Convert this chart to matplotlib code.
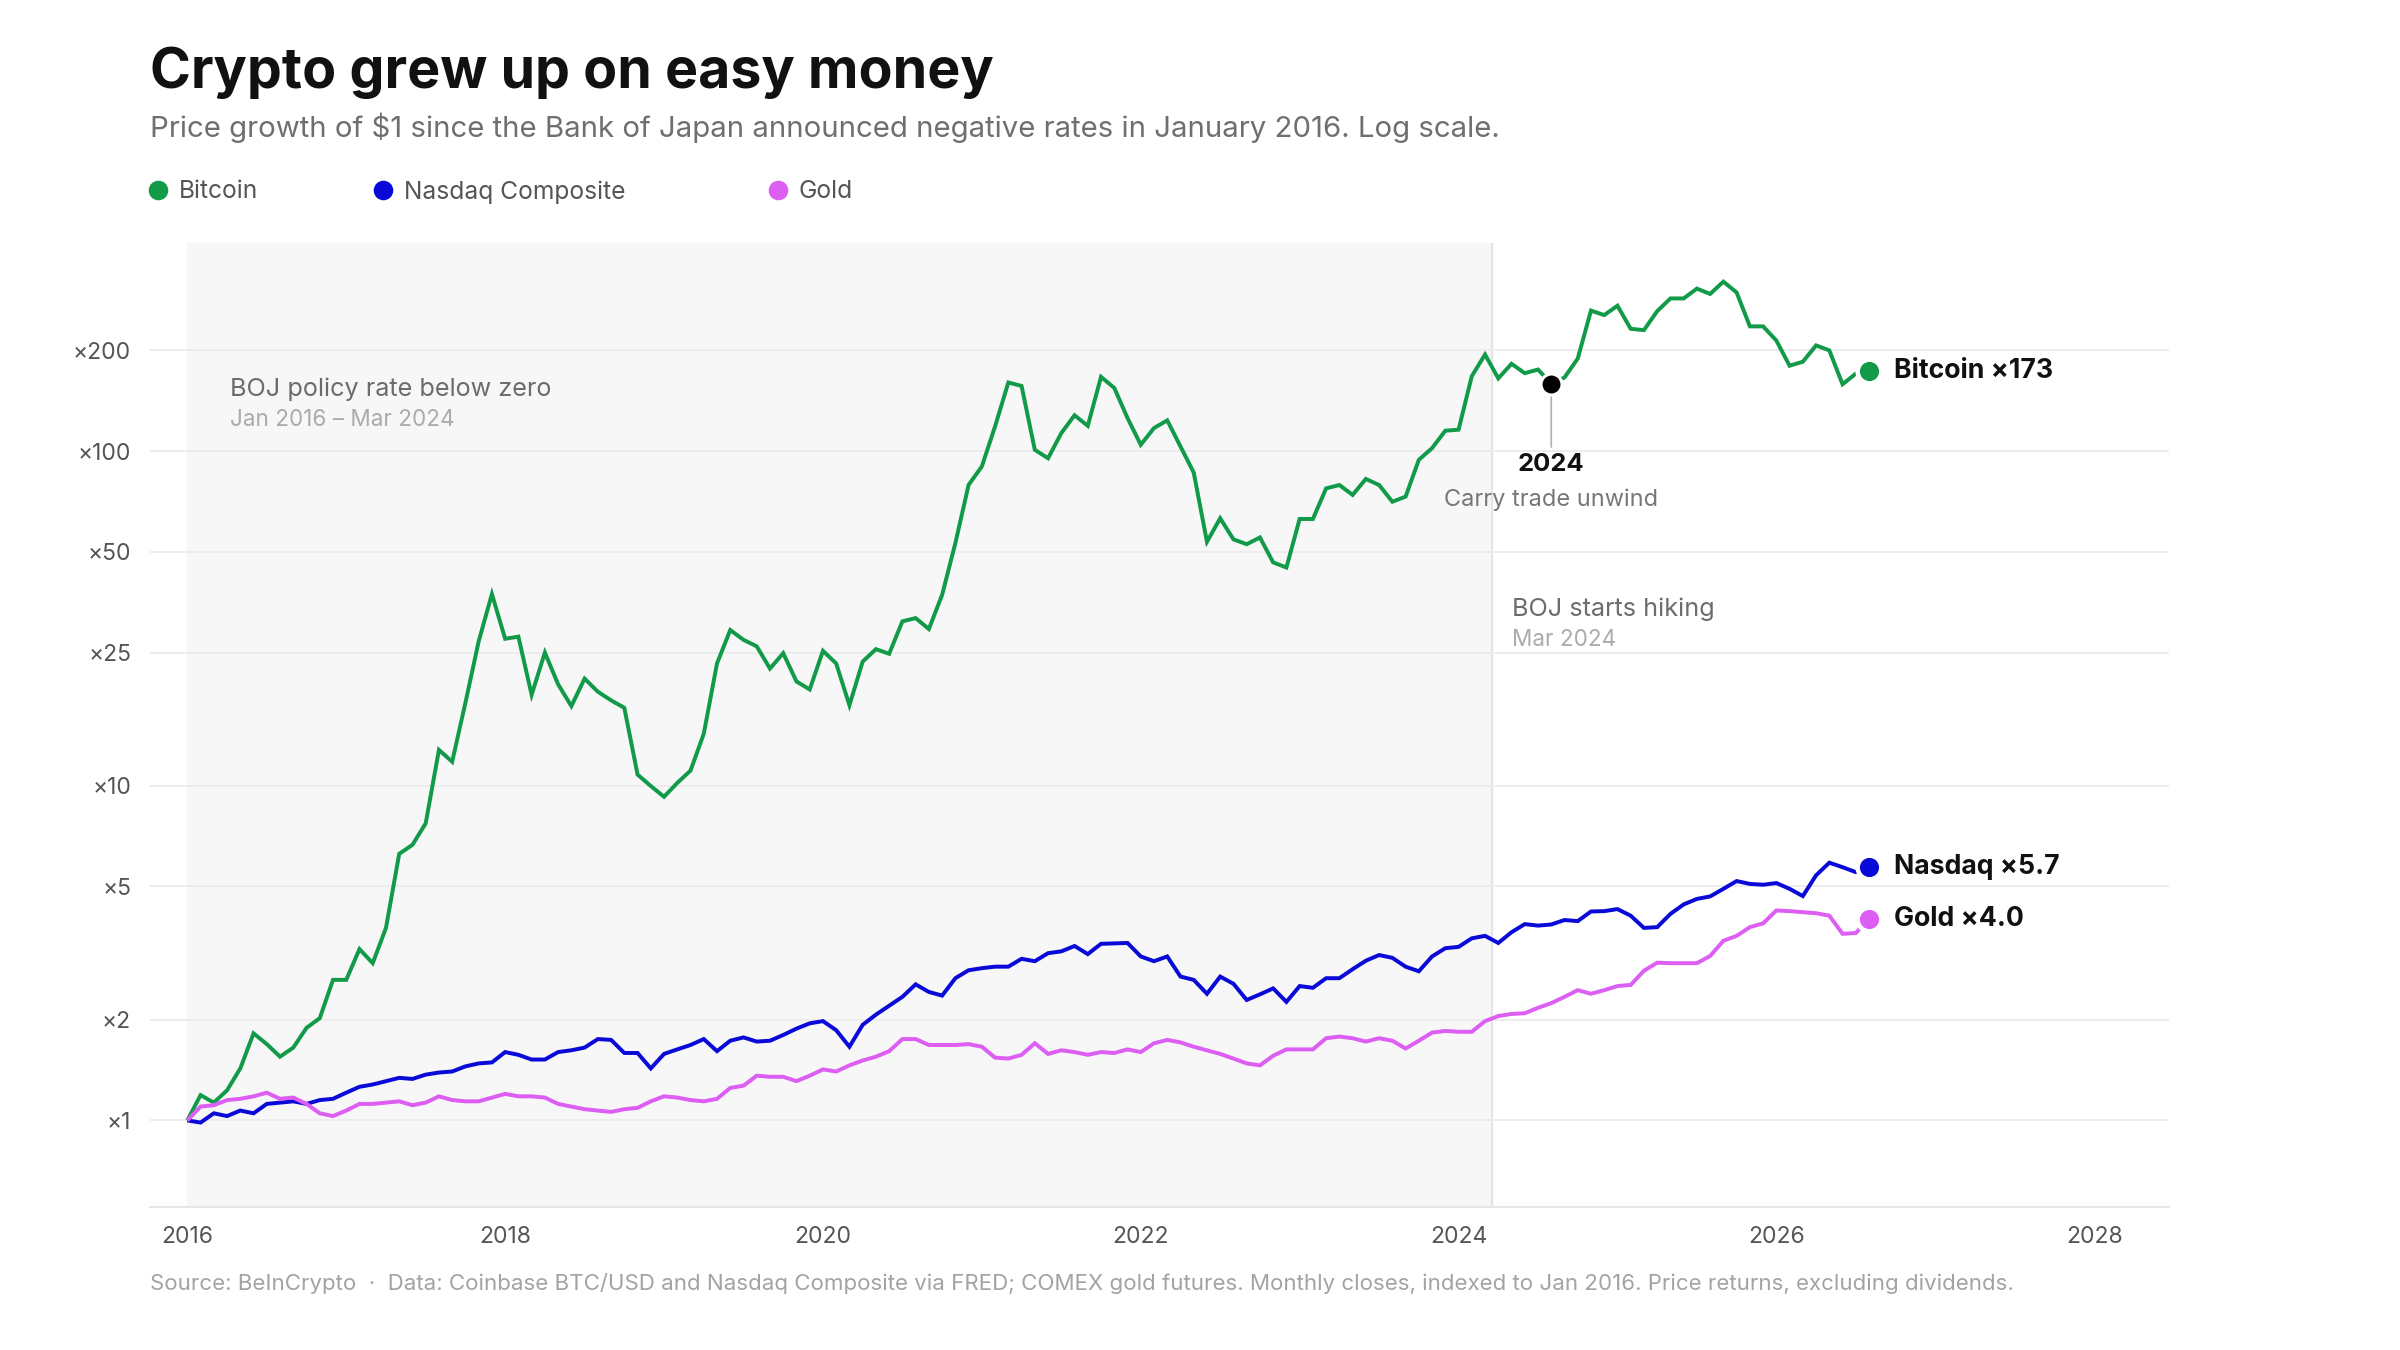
import numpy as np
import pandas as pd
import matplotlib
matplotlib.use("Agg")
import matplotlib.pyplot as plt
from matplotlib.lines import Line2D

plt.rcParams['font.family'] = ['Inter', 'DejaVu Sans']

# ---------------- data (monthly closes, indexed to Jan 2016 = 1) ----------------
months = pd.date_range('2016-01-01', '2026-08-01', freq='MS')

bitcoin = [
    1.00, 1.19, 1.13, 1.23, 1.43, 1.82, 1.69, 1.55, 1.65, 1.89, 2.02, 2.63,
    2.63, 3.25, 2.95, 3.76, 6.26, 6.66, 7.72, 12.8, 11.8, 17.7, 27.0, 37.4,
    27.5, 27.9, 18.7, 25.0, 20.1, 17.3, 20.9, 19.1, 18.0, 17.1, 10.8, 9.98,
    9.27, 10.2, 11.1, 14.3, 23.2, 29.2, 27.3, 26.1, 22.4, 24.9, 20.5, 19.4,
    25.3, 23.2, 17.4, 23.5, 25.6, 24.8, 31.0, 31.7, 29.4, 37.2, 53.1, 79.3,
    90.0, 118.6, 160.4, 156.6, 100.9, 95.2, 113.2, 128.0, 119.0, 166.7, 154.5, 125.6,
    104.5, 117.2, 123.6, 103.3, 86.3, 53.6, 63.0, 54.5, 52.7, 55.2, 46.5, 44.9,
    62.7, 62.7, 77.4, 79.2, 74.0, 82.6, 79.2, 70.6, 73.1, 94.2, 102.1, 115.1,
    115.9, 167.5, 194.4, 165.0, 182.4, 171.0, 175.3, 159.2, 166.0, 189.0, 263.0, 255.0,
    272.0, 232.0, 230.0, 262.0, 286.0, 286.0, 306.0, 295.0, 321.0, 298.0, 236.0, 236.0,
    214.0, 180.0, 185.0, 207.0, 200.0, 158.4, 170.5, 173.0,
]

nasdaq = [
    1.00, 0.985, 1.05, 1.03, 1.07, 1.05, 1.12, 1.13, 1.14, 1.12, 1.15, 1.16,
    1.21, 1.26, 1.28, 1.31, 1.34, 1.33, 1.37, 1.39, 1.40, 1.45, 1.48, 1.49,
    1.60, 1.57, 1.52, 1.52, 1.60, 1.62, 1.65, 1.75, 1.74, 1.59, 1.59, 1.43,
    1.58, 1.63, 1.68, 1.75, 1.61, 1.73, 1.77, 1.72, 1.73, 1.80, 1.88, 1.95,
    1.98, 1.86, 1.66, 1.93, 2.07, 2.20, 2.34, 2.55, 2.42, 2.36, 2.66, 2.81,
    2.85, 2.88, 2.88, 3.04, 2.99, 3.16, 3.20, 3.32, 3.14, 3.37, 3.38, 3.39,
    3.09, 2.99, 3.09, 2.69, 2.63, 2.39, 2.69, 2.56, 2.29, 2.38, 2.48, 2.26,
    2.52, 2.49, 2.66, 2.66, 2.83, 3.00, 3.12, 3.06, 2.88, 2.79, 3.09, 3.27,
    3.30, 3.50, 3.56, 3.39, 3.65, 3.86, 3.82, 3.85, 3.97, 3.94, 4.21, 4.22,
    4.28, 4.09, 3.76, 3.78, 4.14, 4.42, 4.59, 4.67, 4.92, 5.19, 5.09, 5.06,
    5.12, 4.92, 4.68, 5.40, 5.89, 5.71, 5.52, 5.70,
]

gold = [
    1.00, 1.10, 1.11, 1.15, 1.16, 1.18, 1.21, 1.16, 1.17, 1.12, 1.05, 1.03,
    1.07, 1.12, 1.12, 1.13, 1.14, 1.11, 1.13, 1.18, 1.15, 1.14, 1.14, 1.17,
    1.20, 1.18, 1.18, 1.17, 1.12, 1.10, 1.08, 1.07, 1.06, 1.08, 1.09, 1.14,
    1.18, 1.17, 1.15, 1.14, 1.16, 1.25, 1.27, 1.36, 1.35, 1.35, 1.31, 1.36,
    1.42, 1.40, 1.46, 1.51, 1.55, 1.61, 1.75, 1.75, 1.68, 1.68, 1.68, 1.69,
    1.66, 1.54, 1.53, 1.57, 1.70, 1.58, 1.62, 1.60, 1.57, 1.60, 1.59, 1.63,
    1.60, 1.70, 1.74, 1.71, 1.66, 1.62, 1.58, 1.53, 1.48, 1.46, 1.56, 1.63,
    1.63, 1.63, 1.76, 1.78, 1.76, 1.72, 1.76, 1.73, 1.64, 1.73, 1.83, 1.85,
    1.84, 1.84, 1.98, 2.05, 2.08, 2.09, 2.17, 2.24, 2.34, 2.45, 2.39, 2.45,
    2.52, 2.54, 2.80, 2.96, 2.95, 2.95, 2.95, 3.10, 3.44, 3.56, 3.78, 3.88,
    4.24, 4.22, 4.19, 4.16, 4.09, 3.61, 3.63, 4.00,
]

series_names = ["Bitcoin", "Nasdaq Composite", "Gold"]
end_names = ["Bitcoin", "Nasdaq", "Gold"]
colors = ["#119a48", "#0a0ad8", "#dc5ef2"]

y_ticks = [1, 2, 5, 10, 25, 50, 100, 200]
y_tick_labels = ["×1", "×2", "×5", "×10", "×25", "×50", "×100", "×200"]
x_ticks = [2016, 2018, 2020, 2022, 2024, 2026, 2028]

boj_negative_start = 2016.0
boj_hike = 2024 + (31 + 29 + 18) / 366  # 19 Mar 2024
event_index = 103  # Aug 2024, carry trade unwind

# ---------------- figure ----------------
W, H = 2400, 1350
fig = plt.figure(figsize=(16, 9), dpi=150, facecolor="white")
ax = fig.add_axes([150 / W, 1 - 1207 / H, (2169 - 150) / W, (1207 - 243) / H])
ax.set_facecolor("white")

x = months.year + (months.month - 1) / 12.0

ax.set_yscale("log")
ax.set_xlim(2015.765, 2028.471)
ax.set_ylim(0.551, 418.8)

# shaded BOJ negative-rate period
ax.axvspan(boj_negative_start, boj_hike, color="#f7f7f8", zorder=0, lw=0)
ax.axvline(boj_hike, color="#e4e4e6", lw=1.0, zorder=1)

# grid
ax.set_yticks(y_ticks)
ax.set_yticklabels(y_tick_labels)
ax.yaxis.set_minor_locator(matplotlib.ticker.NullLocator())
ax.grid(axis="y", color="#ececee", lw=0.9, zorder=1)
ax.set_xticks(x_ticks)
ax.set_xticklabels([str(t) for t in x_ticks])
ax.tick_params(axis="both", length=0, labelsize=11, colors="#555555")
ax.tick_params(axis="y", pad=9)
ax.tick_params(axis="x", pad=9)
for s in ["top", "right", "left"]:
    ax.spines[s].set_visible(False)
ax.spines["bottom"].set_color("#e6e6e8")
ax.spines["bottom"].set_linewidth(1.0)

# lines
data = [bitcoin, nasdaq, gold]
handles = []
for vals, c, name in zip(data, colors, series_names):
    ln, = ax.plot(x, vals, color=c, lw=1.9, zorder=3, solid_joinstyle="miter",
                  solid_capstyle="butt")
    handles.append(Line2D([], [], marker="o", ls="none", color=c, markersize=8.4))

# end dots with halo
for vals, c, name in zip(data, colors, end_names):
    ax.plot(x[-1], vals[-1], "o", ms=12.5, color="white", zorder=4)
    ax.plot(x[-1], vals[-1], "o", ms=8.2, color=c, zorder=5)
    fmt = f"{vals[-1]:.0f}" if vals[-1] >= 100 else f"{vals[-1]:.1f}"
    ax.annotate(f"{name} ×{fmt}", xy=(x[-1], vals[-1]), xytext=(12, 0),
                textcoords="offset points", va="center", ha="left",
                fontsize=12.8, fontweight="bold", color="#111111", zorder=6)

# event marker
ex, ev = x[event_index], bitcoin[event_index]
ax.plot(ex, ev, "o", ms=10.5, color="white", zorder=4)
ax.plot(ex, ev, "o", ms=7.6, color="black", zorder=5)
ax.annotate("2024", xy=(ex, ev), xytext=(0, -39), textcoords="offset points",
            ha="center", va="center", fontsize=12.3, fontweight="bold", color="#111111",
            arrowprops=dict(arrowstyle="-", color="#b0b0b0", lw=0.8, shrinkA=1, shrinkB=5))
ax.annotate("Carry trade unwind", xy=(ex, ev), xytext=(0, -56), textcoords="offset points",
            ha="center", va="center", fontsize=11.3, color="#777777")

# region annotations
fig.text(230 / W, 1 - 389 / H, "BOJ policy rate below zero", fontsize=12.1,
         color="#6c6c6c", va="center", ha="left")
fig.text(230 / W, 1 - 420 / H, "Jan 2016 – Mar 2024", fontsize=10.8,
         color="#ababab", va="center", ha="left")
fig.text(1512 / W, 1 - 609 / H, "BOJ starts hiking", fontsize=12.1,
         color="#6c6c6c", va="center", ha="left")
fig.text(1512 / W, 1 - 640 / H, "Mar 2024", fontsize=10.8,
         color="#ababab", va="center", ha="left")

# title, subtitle
fig.text(150 / W, 1 - 88 / H, "Crypto grew up on easy money", fontsize=26.6,
         fontweight="bold", color="#111111", va="baseline", ha="left")
fig.text(150 / W, 1 - 137 / H,
         "Price growth of $1 since the Bank of Japan announced negative rates in January 2016. Log scale.",
         fontsize=14.1, color="#6f6f6f", va="baseline", ha="left")

# legend (three separate entries)
legend_x = [149, 374, 769]
for h, name, lx in zip(handles, series_names, legend_x):
    fig.legend([h], [name], loc="center left", bbox_to_anchor=(lx / W, 1 - 192 / H),
               frameon=False, fontsize=11.8, handlelength=0.75, handletextpad=0.45,
               borderpad=0, borderaxespad=0, labelcolor="#555555")

# source
fig.text(150 / W, 1 - 1283 / H,
         "Source: BeInCrypto  ·  Data: Coinbase BTC/USD and Nasdaq Composite via FRED; COMEX gold futures. "
         "Monthly closes, indexed to Jan 2016. Price returns, excluding dividends.",
         fontsize=10.7, color="#a3a3a3", va="center", ha="left")

fig.savefig("out.png", dpi=150, facecolor="white")
